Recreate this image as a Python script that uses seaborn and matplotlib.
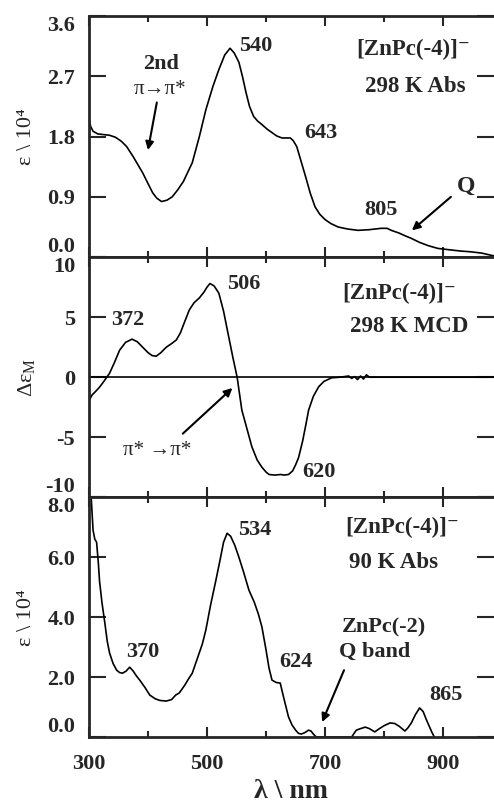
import numpy as np
import pandas as pd
import matplotlib
matplotlib.use("Agg")
import matplotlib.pyplot as plt
import seaborn as sns

# 298 K absorption (eps / 10^4)
abs298_nm = [300, 303, 307, 315, 325, 335, 345, 355, 364, 375, 385, 391, 400, 408, 415, 423, 432, 441,
             450, 460, 475, 487, 498, 510, 520, 530, 539, 546, 554, 560, 566, 572, 579, 586, 593, 602,
             610, 618, 627, 636, 641, 646, 652, 658, 667, 675, 683, 691, 700, 710, 722, 738, 756, 775,
             795, 805, 812, 825, 835, 846, 860, 875, 891, 910, 930, 946, 965, 985]
abs298_eps = [2.08, 1.95, 1.88, 1.84, 1.83, 1.82, 1.79, 1.73, 1.65, 1.50, 1.35, 1.26, 1.10, 0.96, 0.88,
              0.83, 0.85, 0.90, 1.00, 1.13, 1.41, 1.80, 2.20, 2.55, 2.80, 3.02, 3.12, 3.05, 2.91, 2.70,
              2.46, 2.25, 2.10, 2.03, 1.98, 1.91, 1.86, 1.81, 1.78, 1.78, 1.78, 1.74, 1.65, 1.47, 1.20,
              0.95, 0.75, 0.64, 0.56, 0.50, 0.45, 0.42, 0.40, 0.41, 0.43, 0.43, 0.40, 0.36, 0.32, 0.28,
              0.22, 0.17, 0.13, 0.11, 0.09, 0.08, 0.06, 0.02]

# 298 K MCD (delta eps_M)
mcd_nm = [300, 305, 312, 318, 326, 335, 343, 352, 362, 373, 382, 391, 400, 407, 414, 422, 431, 440, 448,
          455, 462, 470, 478, 487, 495, 500, 505, 512, 520, 528, 537, 544, 551, 559, 566, 576, 585, 593,
          600, 605, 615, 625, 630, 638, 645, 650, 655, 662, 668, 672, 680, 689, 698, 711, 725, 740, 745,
          750, 755, 760, 765, 770, 775, 800, 985]
mcd_val = [-2.0, -1.5, -1.15, -0.83, -0.3, 0.33, 1.2, 2.25, 2.9, 3.17, 2.95, 2.5, 2.05, 1.8, 1.75, 2.05,
           2.5, 2.8, 3.1, 3.7, 4.6, 5.6, 6.2, 6.6, 7.1, 7.5, 7.8, 7.6, 7.0, 5.5, 3.3, 1.6, 0.0, -2.75,
           -4.0, -5.8, -6.9, -7.5, -7.9, -8.1, -8.15, -8.1, -8.15, -8.1, -7.8, -7.3, -6.7, -5.3, -3.8,
           -2.75, -1.6, -0.8, -0.35, -0.05, 0.0, 0.1, -0.1, 0.05, -0.2, 0.1, -0.15, 0.2, 0.0, 0.0, 0.0]

# 90 K absorption (eps / 10^4)
abs90_nm = [303, 307, 310, 313, 316, 318, 322, 327, 331, 335, 341, 347, 352, 357, 363, 369, 375, 380,
            386, 395, 403, 412, 420, 431, 440, 447, 453, 462, 469, 475, 485, 492, 498, 506, 515, 522,
            528, 534, 540, 547, 554, 562, 571, 580, 587, 593, 600, 605, 610, 617, 624, 630, 638, 644,
            650, 655, 660, 666, 672, 676, 680, 685, 745, 750, 753, 760, 768, 775, 784, 792, 800, 810,
            818, 826, 835, 840, 846, 853, 860, 866, 871, 877, 881, 885]
abs90_eps = [8.3, 6.9, 6.6, 6.5, 5.8, 5.2, 4.5, 3.8, 3.2, 2.8, 2.45, 2.23, 2.15, 2.13, 2.2, 2.33, 2.2,
             2.05, 1.9, 1.65, 1.4, 1.28, 1.22, 1.2, 1.25, 1.4, 1.47, 1.72, 1.95, 2.13, 2.7, 3.1, 3.57,
             4.4, 5.23, 5.9, 6.5, 6.8, 6.7, 6.4, 6.0, 5.5, 4.9, 4.5, 4.1, 3.67, 2.9, 2.3, 1.9, 1.82,
             1.8, 1.3, 0.67, 0.4, 0.23, 0.12, 0.1, 0.15, 0.23, 0.2, 0.1, 0.0, 0.0, 0.15, 0.23, 0.28,
             0.33, 0.28, 0.17, 0.28, 0.38, 0.47, 0.45, 0.35, 0.2, 0.3, 0.47, 0.75, 0.97, 0.85, 0.6,
             0.33, 0.15, 0.0]

x_major = [300, 500, 700, 900]
x_minor = [400, 600, 800]
y1_ticks = [0.0, 0.9, 1.8, 2.7, 3.6]
y1_labels = ["0.0", "0.9", "1.8", "2.7", "3.6"]
y2_ticks = [-10, -5, 0, 5, 10]
y2_labels = ["-10", "-5", "0", "5", "10"]
y3_ticks = [0.0, 2.0, 4.0, 6.0, 8.0]
y3_labels = ["0.0", "2.0", "4.0", "6.0", "8.0"]

sns.set_style("ticks")
plt.rcParams['font.family'] = ['Liberation Serif', 'DejaVu Serif']
plt.rcParams['mathtext.fontset'] = 'custom'
plt.rcParams['mathtext.rm'] = 'Liberation Serif'
plt.rcParams['mathtext.it'] = 'Liberation Serif:italic'
plt.rcParams['mathtext.bf'] = 'Liberation Serif:bold'

fig = plt.figure(figsize=(4.94, 8.06), dpi=100)
left, width = 0.180, 0.820
ax1 = fig.add_axes([left, 0.681, width, 0.299])
ax2 = fig.add_axes([left, 0.383, width, 0.298])
ax3 = fig.add_axes([left, 0.0856, width, 0.2974])

df1 = pd.DataFrame({'nm': abs298_nm, 'val': abs298_eps})
df2 = pd.DataFrame({'nm': mcd_nm, 'val': mcd_val})
df3 = pd.DataFrame({'nm': abs90_nm, 'val': abs90_eps})

sns.lineplot(data=df1, x='nm', y='val', ax=ax1, color='black', lw=1.2, sort=False)
sns.lineplot(data=df2, x='nm', y='val', ax=ax2, color='black', lw=1.2, sort=False)
sns.lineplot(data=df3, x='nm', y='val', ax=ax3, color='black', lw=1.2, sort=False)
ax2.axhline(0, color='black', lw=1.2)

setup = [(ax1, (0, 3.6), y1_ticks, y1_labels),
         (ax2, (-10, 10), y2_ticks, y2_labels),
         (ax3, (0, 8), y3_ticks, y3_labels)]
for ax, ylim, yt, yl in setup:
    ax.set_xlim(300, 986)
    ax.set_ylim(*ylim)
    ax.set_xticks(x_major)
    ax.set_xticks(x_minor, minor=True)
    ax.set_yticks(yt)
    ax.set_yticklabels(yl, fontsize=16, fontweight='bold')
    ax.set_xlabel('')
    ax.set_ylabel('')
    for s in ['left', 'top', 'bottom']:
        ax.spines[s].set_linewidth(2)
        ax.spines[s].set_visible(True)
    ax.spines['right'].set_visible(False)
    ax.tick_params(axis='x', which='both', direction='in', top=True, bottom=True,
                   width=1.5, labelbottom=False)
    ax.tick_params(axis='x', which='major', length=7)
    ax.tick_params(axis='x', which='minor', length=4)
    ax.tick_params(axis='y', direction='in', left=True, right=True, length=12, width=1.5, pad=10)
    yt_objs = ax.yaxis.get_major_ticks()
    yt_objs[0].label1.set_va('bottom')
    yt_objs[-1].label1.set_va('top')

ax3.tick_params(axis='x', labelbottom=True, labelsize=16, pad=12)
for lab in ax3.get_xticklabels():
    lab.set_fontweight('bold')
ax3.set_xlabel('λ \\ nm', fontsize=20, fontweight='bold', labelpad=4)

ax1.set_ylabel('ε \\ 10⁴', fontsize=16, labelpad=8)
ax2.set_ylabel('Δε$_\\mathrm{M}$', fontsize=16, labelpad=6)
ax3.set_ylabel('ε \\ 10⁴', fontsize=16, labelpad=8)

fw = dict(fontweight='bold', ha='center', va='center')
arrow = dict(arrowstyle='-|>', color='black', lw=1.5, mutation_scale=12, shrinkA=0, shrinkB=0)

# panel 1
ax1.text(583, 3.15, '540', fontsize=16, **fw)
ax1.text(423, 2.88, '2nd', fontsize=16, **fw)
ax1.text(420, 2.5, 'π→π*', fontsize=15, ha='center', va='center')
ax1.annotate('', xy=(400, 1.6), xytext=(415, 2.31), arrowprops=arrow)
ax1.text(693, 1.86, '643', fontsize=16, **fw)
ax1.text(795, 0.7, '805', fontsize=16, **fw)
ax1.text(938, 1.05, 'Q', fontsize=17, **fw)
ax1.annotate('', xy=(847, 0.4), xytext=(913, 0.9), arrowprops=arrow)
ax1.text(849, 3.1, '[ZnPc(-4)]⁻', fontsize=16.5, **fw)
ax1.text(852, 2.55, '298 K Abs', fontsize=16.5, **fw)

# panel 2
ax2.text(563, 7.8, '506', fontsize=16, **fw)
ax2.text(366, 4.75, '372', fontsize=16, **fw)
ax2.text(825, 7.0, '[ZnPc(-4)]⁻', fontsize=16.5, **fw)
ax2.text(842, 4.2, '298 K MCD', fontsize=16.5, **fw)
ax2.text(415, -6.1, 'π* →π*', fontsize=15, ha='center', va='center')
ax2.annotate('', xy=(543, -0.9), xytext=(459, -4.7), arrowprops=arrow)
ax2.text(690, -7.9, '620', fontsize=16, **fw)

# panel 3
ax3.text(580, 6.9, '534', fontsize=16, **fw)
ax3.text(830, 7.0, '[ZnPc(-4)]⁻', fontsize=16.5, **fw)
ax3.text(816, 5.83, '90 K Abs', fontsize=16.5, **fw)
ax3.text(391, 2.83, '370', fontsize=16, **fw)
ax3.text(651, 2.5, '624', fontsize=16, **fw)
ax3.text(800, 3.67, 'ZnPc(-2)', fontsize=16, **fw)
ax3.text(783, 2.83, 'Q band', fontsize=16, **fw)
ax3.annotate('', xy=(695, 0.5), xytext=(732, 2.23), arrowprops=arrow)
ax3.text(904, 1.4, '865', fontsize=16, **fw)

fig.savefig('out.png', dpi=100)
